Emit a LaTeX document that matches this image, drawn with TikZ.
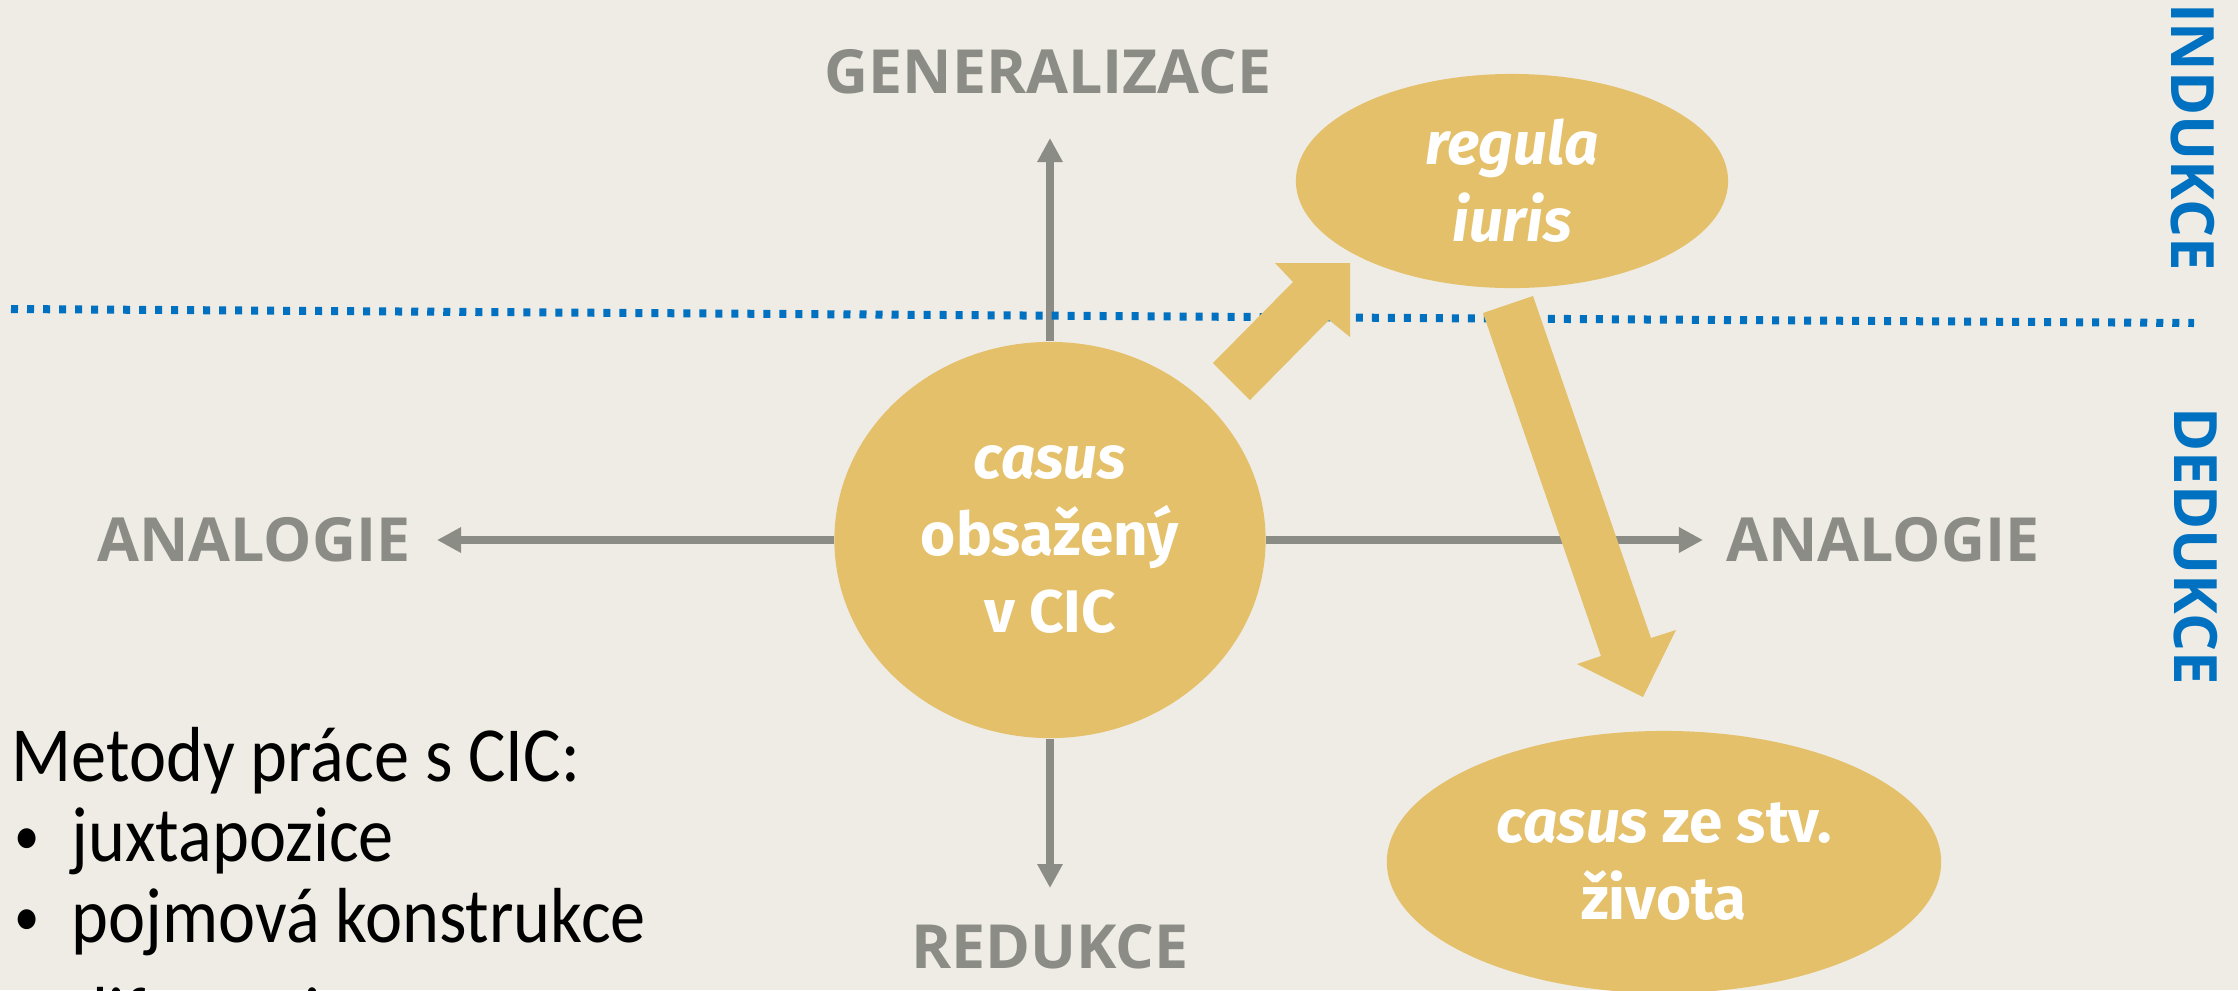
\documentclass[tikz,border=0pt]{standalone}
\usepackage{fontspec}
\setmainfont{Carlito}
\newfontfamily\listfont{Carlito}[FakeStretch=0.9]
\newfontfamily\tagfont{Open Sans}
\newfontfamily\blobfont{Fira Sans}
\usetikzlibrary{shapes.geometric,arrows.meta}
\definecolor{paper}{RGB}{238,236,228}
\definecolor{gold}{RGB}{229,192,106}
\definecolor{ash}{RGB}{140,140,134}
\definecolor{ink}{RGB}{0,112,192}
\newcommand{\dotmark}{\makebox[0.57cm][l]{\raisebox{1.8pt}{\fontsize{16pt}{16pt}\selectfont•}}}
\tikzset{
  blob/.style={ellipse, fill=gold, inner sep=0pt, text=white, align=center,
    font=\blobfont\bfseries\fontsize{17.1pt}{21.9pt}\selectfont},
  tag/.style={text=ash, inner sep=0pt, font=\tagfont\bfseries\fontsize{17.3pt}{21pt}\selectfont},
  sidetag/.style={text=ink, inner sep=0pt, rotate=-90, font=\tagfont\bfseries\fontsize{17pt}{21pt}\selectfont},
  axis/.style={draw=ash, line width=0.08cm, -{Triangle[length=0.24cm,width=0.24cm]}},
  divider/.style={draw=ink, line width=0.08cm, dash pattern=on 0.07cm off 0.09cm},
  listline/.style={anchor=base west, inner sep=0pt, font=\listfont\fontsize{22.2pt}{23.6pt}\selectfont}
}
\begin{document}
\begin{tikzpicture}[x=0.01cm, y=-0.01cm]
  \useasboundingbox (0,0) rectangle (2238,990);
  \fill[paper] (0,0) rectangle (2238,990);
  \clip (0,0) rectangle (2238,990);

  \coordinate (up) at (1050,138);
  \coordinate (down) at (1050,888);
  \coordinate (left) at (437,540);
  \coordinate (right) at (1703,540);
  \coordinate (d1) at (11,309);
  \coordinate (d2) at (2194,323);

  \node [blob, minimum width=4.31cm, minimum height=3.96cm] (casus) at (1050,540) {\textit{casus}\\obsažený\\v CIC};
  \node [blob, minimum width=4.32cm, minimum height=2.14cm] (regula) at (1512,181) {\textit{regula}\\\textit{iuris}};
  \node [blob, minimum width=5.54cm, minimum height=2.62cm] (zivot) at (1664,862) {\textit{casus} ze stv.\\života};

  \node [tag] (gen) at (1048,72) {GENERALIZACE};
  \node [tag] (red) at (1050,947) {REDUKCE};
  \node [tag] (analeft) at (254,540) {ANALOGIE};
  \node [tag] (anaright) at (1883,540) {ANALOGIE};
  \node [sidetag] (ind) at (2193,137) {INDUKCE};
  \node [sidetag] (ded) at (2196,546) {DEDUKCE};

  \draw[axis] (casus) -- (up);
  \draw[axis] (casus) -- (down);
  \draw[axis] (casus) -- (left);
  \draw[axis] (casus) -- (right);

  \draw[divider] (d1) -- (d2);

  \fill[gold] (1213,363) -- (1293,282) -- (1275,263) -- (1350,263) -- (1350,337) -- (1329,320) -- (1250,400) -- cycle;
  \fill[gold] (1483,313) -- (1601,656) -- (1577,664) -- (1643,697) -- (1676,630) -- (1651,638) -- (1533,296) -- cycle;

  \node [listline] (head) at (11,781) {Metody práce s CIC:};
  \node [listline] (item1) at (14,861) {\dotmark juxtapozice};
  \node [listline] (item2) at (14,942) {\dotmark pojmová konstrukce};
  \node [listline] (item3) at (14,1041) {\dotmark diferenciace};
\end{tikzpicture}
\end{document}
